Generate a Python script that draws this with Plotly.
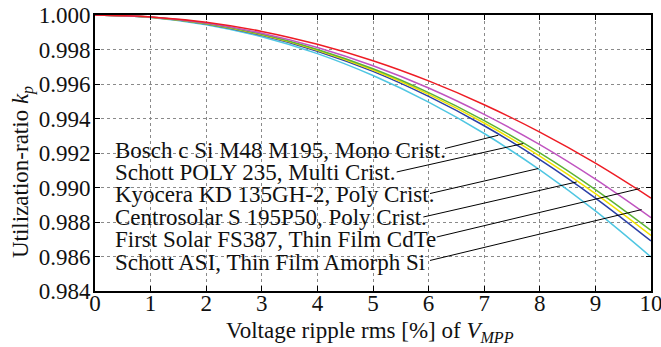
import plotly.graph_objects as go

ripple = [0, 1, 2, 3, 4, 5, 6, 7, 8, 9, 10]

kp_red = [1.0000, 0.99989, 0.99958, 0.99905, 0.99830, 0.99735, 0.99618, 0.99480, 0.99321, 0.99141, 0.98939]
kp_magenta = [1.0000, 0.99988, 0.99953, 0.99894, 0.99812, 0.99706, 0.99577, 0.99424, 0.99248, 0.99048, 0.98825]
kp_green = [1.0000, 0.99988, 0.99950, 0.99888, 0.99800, 0.99688, 0.99550, 0.99388, 0.99201, 0.98988, 0.98751]
kp_yellow = [1.0000, 0.99987, 0.99949, 0.99885, 0.99796, 0.99681, 0.99540, 0.99374, 0.99182, 0.98965, 0.98722]
kp_blue = [1.0000, 0.99987, 0.99948, 0.99882, 0.99790, 0.99673, 0.99528, 0.99358, 0.99162, 0.98939, 0.98690]
kp_cyan = [1.0000, 0.99986, 0.99944, 0.99874, 0.99776, 0.99649, 0.99495, 0.99313, 0.99102, 0.98864, 0.98597]

labels = [
    "Bosch c Si M48 M195, Mono Crist.",
    "Schott POLY 235, Multi Crist.",
    "Kyocera KD 135GH-2, Poly Crist.",
    "Centrosolar S 195P50, Poly Crist.",
    "First Solar FS387, Thin Film CdTe",
    "Schott ASI, Thin Film Amorph Si",
]
label_y = [0.99216, 0.99089, 0.98961, 0.98829, 0.98698, 0.98568]
leader_start = [(6.295, 0.99226), (5.426, 0.99090), (6.025, 0.98965),
                (5.905, 0.98829), (6.146, 0.98713), (6.025, 0.98577)]
leader_end = [(7.254, 0.99303), (7.703, 0.99255), (7.973, 0.99110),
              (8.663, 0.99032), (9.802, 0.98994), (9.832, 0.98872)]

series = [
    (kp_cyan, "#4fc6e2"),
    (kp_blue, "#2b3fa6"),
    (kp_yellow, "#f2e200"),
    (kp_green, "#5db336"),
    (kp_magenta, "#c054c0"),
    (kp_red, "#ee1c24"),
]

FONT = "Liberation Serif, Times New Roman, serif"
fig = go.Figure()
for vals, col in series:
    fig.add_trace(go.Scatter(x=ripple, y=vals, mode="lines",
                             line=dict(color=col, width=1.5, shape="spline"),
                             showlegend=False, hoverinfo="skip"))

for (x0, y0), (x1, y1) in zip(leader_start, leader_end):
    fig.add_shape(type="line", x0=x0, y0=y0, x1=x1, y1=y1, xref="x", yref="y",
                  line=dict(color="black", width=1))

for lab, ly in zip(labels, label_y):
    fig.add_annotation(x=0.33, y=ly, xref="x", yref="y", text=lab, showarrow=False,
                       xanchor="left", yanchor="middle",
                       font=dict(family=FONT, size=23, color="#111"))

fig.add_annotation(x=-0.13, y=0.43, xref="paper", yref="paper",
                   text="Utilization-ratio <i>k</i><sub><i>p</i></sub>", textangle=-90,
                   showarrow=False, xanchor="center", yanchor="middle",
                   font=dict(family=FONT, size=23, color="#111"))
fig.add_annotation(x=0.4946, y=-0.148, xref="paper", yref="paper",
                   text="Voltage ripple rms [%] of <i>V</i><sub><i>MPP</i></sub>",
                   showarrow=False, xanchor="center", yanchor="middle",
                   font=dict(family=FONT, size=23, color="#111"))

axis_common = dict(showline=True, linecolor="black", linewidth=2, mirror="ticks",
                   ticks="inside", ticklen=5, tickcolor="black",
                   showgrid=True, gridcolor="#8a8a8a", griddash="dot", gridwidth=1,
                   zeroline=False, automargin=False, ticklabeloverflow="allow",
                   tickfont=dict(family=FONT, size=23, color="#111"))

fig.update_xaxes(range=[0, 10], tickmode="array", tickvals=list(range(11)),
                 ticktext=[str(v) for v in range(11)], ticklabelstandoff=-10, **axis_common)
fig.update_yaxes(range=[0.984, 1.0], tickmode="array",
                 tickvals=[0.984, 0.986, 0.988, 0.990, 0.992, 0.994, 0.996, 0.998, 1.000],
                 ticktext=["0.984", "0.986", "0.988", "0.990", "0.992", "0.994", "0.996", "0.998", "1.000"],
                 ticklabelstandoff=-2, **axis_common)

fig.update_layout(width=661, height=347, margin=dict(l=95, r=10, t=15, b=56),
                  plot_bgcolor="white", paper_bgcolor="white",
                  font=dict(family=FONT))
# remove the browser's default 8px body margin so the figure fills the window
fig.write_html("out.html", config={"displayModeBar": False},
               post_script="document.body.style.margin='0';")
